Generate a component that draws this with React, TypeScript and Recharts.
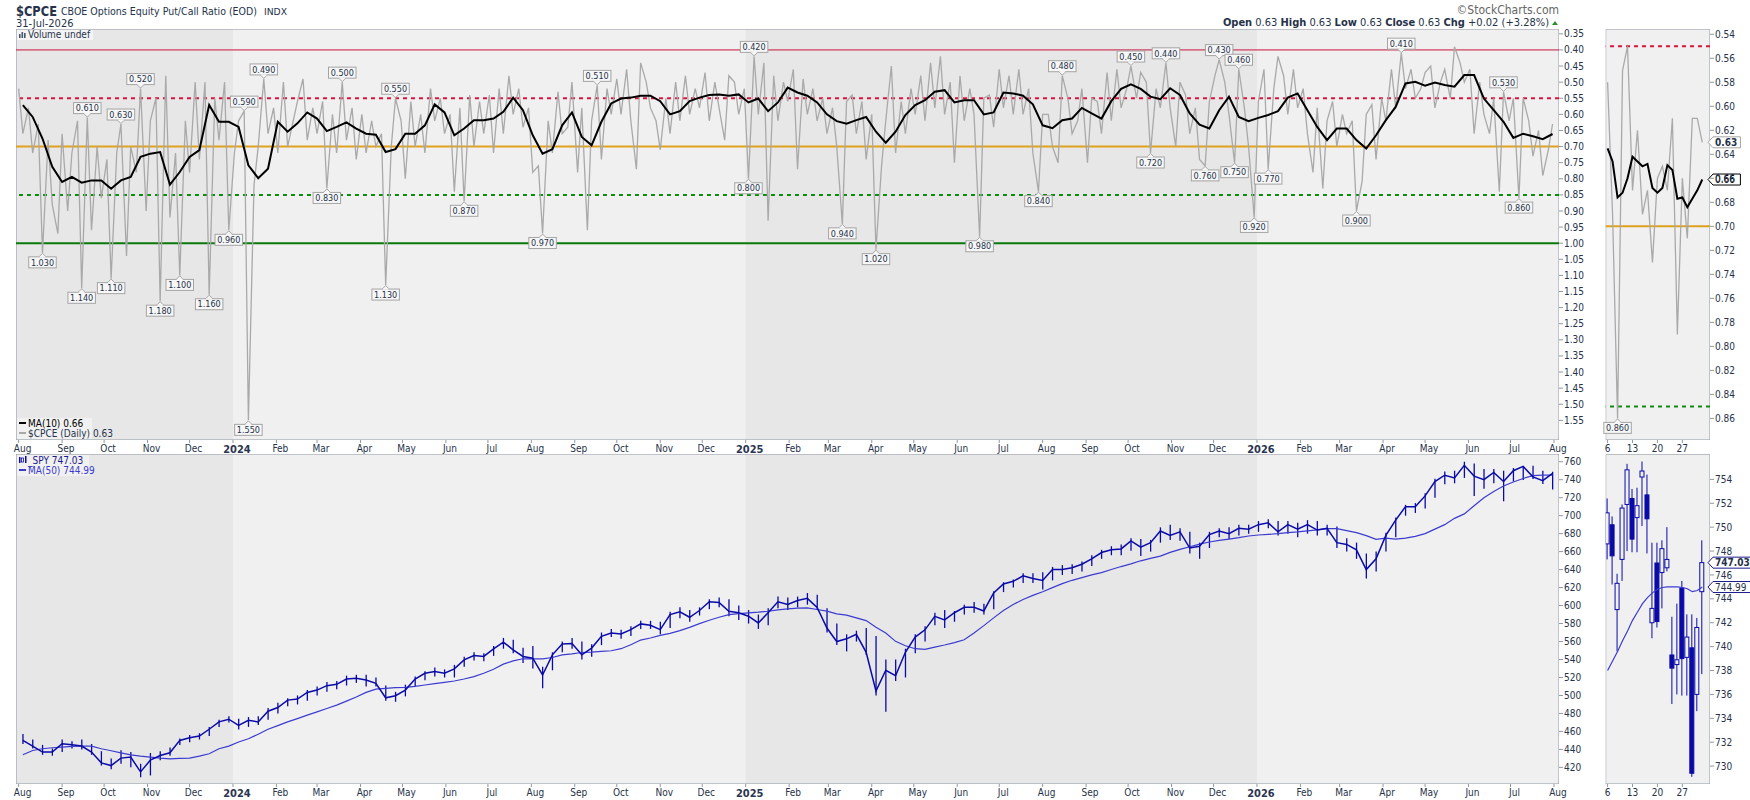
import React from 'react';
import {
  LineChart,
  Line,
  ComposedChart,
  Bar,
  XAxis,
  YAxis,
  ReferenceLine,
  ReferenceArea,
  ReferenceDot,
} from 'recharts';

const FONT = "'DejaVu Sans Condensed', 'Liberation Sans Narrow', 'DejaVu Sans', sans-serif";
const INK = '#26324a';
const FRAME = '#8f98a3';
const BG_LIGHT = '#f0f0f0';
const BG_DARK = '#e7e7e7';
const SPY_BLUE = '#0a0aa8';
const MA_BLUE = '#3b3bd0';

const DAY_MS = 86400000;
const EPOCH = Date.UTC(2024, 0, 1);
const dayOf = (y: number, m: number, d: number) => (Date.UTC(y, m, d) - EPOCH) / DAY_MS;
const FIRST_FRIDAY = dayOf(2023, 7, 4);
const X_DOMAIN: [number, number] = [-154.9, 946.6];
const MONTHS = ['Jan', 'Feb', 'Mar', 'Apr', 'May', 'Jun', 'Jul', 'Aug', 'Sep', 'Oct', 'Nov', 'Dec'];

// ── $CPCE, two readings per week (Tue, Fri), Aug 2023 – Jul 2026 ──
const CPCE_DAILY = [
  0.52, 0.66, 0.58, 0.72, 0.63, 1.03, 0.68, 0.88, 0.97, 0.66,
  0.90, 0.72, 0.62, 1.14, 0.61, 0.96, 0.70, 0.86, 0.74, 1.11,
  0.72, 0.63, 1.04, 0.70, 0.78, 0.52, 0.90, 0.62, 0.55, 1.18,
  0.48, 0.92, 0.72, 1.10, 0.62, 0.78, 0.50, 0.74, 0.50, 1.16,
  0.55, 0.68, 0.50, 0.96, 0.72, 0.62, 0.59, 1.55, 0.82, 0.70,
  0.49, 0.66, 0.58, 0.72, 0.50, 0.70, 0.62, 0.56, 0.49, 0.68,
  0.58, 0.66, 0.56, 0.83, 0.60, 0.72, 0.50, 0.68, 0.58, 0.74,
  0.60, 0.72, 0.62, 0.70, 0.66, 1.13, 0.70, 0.55, 0.62, 0.80,
  0.56, 0.70, 0.60, 0.72, 0.52, 0.62, 0.55, 0.66, 0.60, 0.84,
  0.58, 0.87, 0.54, 0.70, 0.56, 0.66, 0.54, 0.72, 0.52, 0.66,
  0.48, 0.60, 0.52, 0.64, 0.58, 0.78, 0.76, 0.97, 0.62, 0.72,
  0.53, 0.66, 0.64, 0.50, 0.78, 0.58, 0.96, 0.62, 0.51, 0.74,
  0.52, 0.60, 0.49, 0.60, 0.46, 0.62, 0.77, 0.44, 0.50, 0.58,
  0.62, 0.71, 0.55, 0.66, 0.50, 0.62, 0.48, 0.60, 0.52, 0.58,
  0.47, 0.62, 0.50, 0.58, 0.68, 0.48, 0.50, 0.60, 0.52, 0.80,
  0.42, 0.60, 0.44, 0.93, 0.48, 0.62, 0.50, 0.56, 0.46, 0.77,
  0.49, 0.60, 0.52, 0.62, 0.55, 0.66, 0.58, 0.70, 0.94, 0.56,
  0.54, 0.66, 0.56, 0.74, 0.60, 1.02, 0.76, 0.62, 0.45, 0.72,
  0.56, 0.66, 0.52, 0.60, 0.48, 0.62, 0.44, 0.58, 0.42, 0.60,
  0.50, 0.75, 0.48, 0.62, 0.52, 0.60, 0.98, 0.55, 0.54, 0.64,
  0.46, 0.58, 0.48, 0.60, 0.46, 0.60, 0.52, 0.72, 0.84, 0.60,
  0.60, 0.70, 0.75, 0.48, 0.55, 0.66, 0.62, 0.52, 0.75, 0.55,
  0.56, 0.66, 0.47, 0.62, 0.46, 0.58, 0.52, 0.45, 0.55, 0.47,
  0.50, 0.72, 0.52, 0.58, 0.44, 0.58, 0.70, 0.50, 0.54, 0.66,
  0.58, 0.74, 0.76, 0.56, 0.48, 0.43, 0.50, 0.60, 0.75, 0.46,
  0.58, 0.70, 0.92, 0.56, 0.46, 0.77, 0.52, 0.42, 0.48, 0.60,
  0.46, 0.58, 0.52, 0.66, 0.78, 0.58, 0.83, 0.62, 0.56, 0.70,
  0.60, 0.66, 0.62, 0.90, 0.81, 0.60, 0.57, 0.74, 0.55, 0.62,
  0.46, 0.58, 0.41, 0.52, 0.46, 0.55, 0.52, 0.47, 0.45, 0.58,
  0.50, 0.46, 0.55, 0.39, 0.44, 0.50, 0.46, 0.66, 0.50, 0.60,
  0.66, 0.55, 0.84, 0.53, 0.62, 0.55, 0.86, 0.55, 0.62, 0.73,
  0.65, 0.79, 0.71, 0.63,
];

// MA(10) of $CPCE, weekly (Fridays)
const CPCE_MA10 = [
  0.571, 0.608, 0.675, 0.763, 0.810, 0.794, 0.812, 0.805, 0.805, 0.831,
  0.805, 0.794, 0.732, 0.722, 0.717, 0.818, 0.779, 0.732, 0.711, 0.571,
  0.623, 0.623, 0.639, 0.758, 0.798, 0.769, 0.623, 0.654, 0.628, 0.594,
  0.613, 0.652, 0.639, 0.625, 0.644, 0.660, 0.663, 0.717, 0.708, 0.660,
  0.660, 0.634, 0.569, 0.594, 0.665, 0.644, 0.618, 0.618, 0.613, 0.592,
  0.548, 0.587, 0.665, 0.722, 0.708, 0.634, 0.594, 0.670, 0.696, 0.623,
  0.566, 0.551, 0.548, 0.542, 0.542, 0.559, 0.600, 0.590, 0.559, 0.548,
  0.540, 0.538, 0.542, 0.538, 0.563, 0.551, 0.590, 0.563, 0.517, 0.532,
  0.542, 0.563, 0.600, 0.621, 0.629, 0.618, 0.608, 0.654, 0.688, 0.654,
  0.602, 0.571, 0.556, 0.530, 0.525, 0.563, 0.556, 0.556, 0.600, 0.594,
  0.532, 0.535, 0.542, 0.569, 0.634, 0.643, 0.618, 0.613, 0.580, 0.597,
  0.613, 0.559, 0.521, 0.507, 0.521, 0.545, 0.553, 0.519, 0.540, 0.597,
  0.632, 0.644, 0.587, 0.545, 0.608, 0.621, 0.611, 0.602, 0.590, 0.548,
  0.535, 0.587, 0.639, 0.680, 0.644, 0.644, 0.680, 0.706, 0.665, 0.618,
  0.577, 0.504, 0.499, 0.511, 0.501, 0.509, 0.514, 0.478, 0.478, 0.551,
  0.587, 0.623, 0.673, 0.660, 0.668, 0.677, 0.661,
];

// labelled swing points: [index into CPCE_DAILY, box above the point?]
const CPCE_MARKS: [number, boolean][] = [
  [5, false], [14, true], [13, false], [21, true], [19, false], [25, true],
  [29, false], [33, false], [39, false], [43, false], [46, true], [47, false],
  [50, true], [63, false], [66, true], [75, false], [77, true], [91, false],
  [107, false], [118, true], [149, false], [150, true], [168, false], [175, false],
  [196, false], [208, false], [213, true], [227, true], [231, false], [234, true],
  [242, false], [245, true], [248, false], [249, true], [252, false], [255, false],
  [273, false], [282, true], [303, true], [306, false],
];

const CPCE_TICKS = [
  0.35, 0.4, 0.45, 0.5, 0.55, 0.6, 0.65, 0.7, 0.75, 0.8, 0.85, 0.9, 0.95,
  1.0, 1.05, 1.1, 1.15, 1.2, 1.25, 1.3, 1.35, 1.4, 1.45, 1.5, 1.55,
];

// ── SPY weekly close, weekly low / high and MA(50) ──
const SPY_CLOSE = [
  450.1, 443.7, 437.0, 437.0, 446.3, 445.2, 443.7, 437.0, 425.0, 422.0,
  430.3, 431.4, 415.0, 428.0, 433.2, 436.2, 450.0, 453.0, 454.9, 462.4,
  470.6, 473.6, 466.8, 472.4, 470.6, 482.5, 486.6, 494.8, 496.0, 503.4,
  506.0, 510.9, 512.4, 518.3, 519.1, 517.2, 513.5, 497.4, 499.7, 506.0,
  518.3, 524.7, 526.6, 524.7, 529.6, 539.6, 544.5, 543.4, 551.9, 559.4,
  550.8, 543.4, 541.5, 522.8, 545.2, 557.2, 557.9, 545.2, 552.7, 565.8,
  569.5, 568.4, 573.2, 579.6, 578.1, 573.2, 590.0, 593.0, 587.0, 594.5,
  604.2, 603.5, 593.7, 591.9, 588.2, 580.7, 591.9, 604.2, 601.2, 605.7,
  608.0, 598.0, 575.0, 560.0, 563.0, 568.0, 548.0, 505.0, 528.0, 522.0,
  548.0, 565.0, 573.0, 588.0, 584.0, 592.0, 598.0, 598.0, 594.0, 614.0,
  624.0, 627.0, 633.0, 630.0, 628.0, 640.0, 640.0, 642.0, 646.0, 652.0,
  659.0, 662.0, 663.0, 672.0, 665.0, 670.0, 683.0, 678.0, 682.0, 664.0,
  666.0, 679.0, 683.0, 680.0, 686.0, 685.0, 690.0, 692.0, 682.0, 690.0,
  685.0, 690.0, 684.0, 686.0, 670.0, 668.0, 662.0, 640.0, 652.0, 678.0,
  695.0, 710.0, 710.0, 722.0, 738.0, 745.0, 742.0, 756.0, 744.0, 740.0,
  748.0, 738.0, 750.0, 754.8, 743.2, 738.9, 747.03,
];

const SPY_LOW = [
  446, 441, 434, 433, 437, 441, 440, 434, 422, 418,
  424, 420, 409, 411, 428, 433, 445, 448, 451, 455,
  465, 470, 462, 465, 467, 473, 480, 488, 490, 494,
  500, 504, 507, 511, 514, 510, 510, 494, 493, 499,
  510, 517, 521, 520, 520, 532, 539, 538, 544, 552,
  547, 536, 530, 508, 528, 548, 552, 540, 543, 556,
  565, 563, 566, 574, 574, 568, 575, 586, 582, 589,
  596, 598, 588, 584, 580, 574, 578, 597, 595, 598,
  601, 595, 570, 556, 549, 560, 545, 500, 482, 516,
  520, 547, 560, 578, 575, 582, 590, 592, 590, 596,
  615, 620, 625, 625, 618, 628, 634, 635, 638, 644,
  652, 656, 656, 661, 655, 660, 670, 673, 672, 658,
  652, 664, 676, 674, 678, 680, 682, 686, 678, 680,
  676, 680, 678, 678, 664, 660, 652, 630, 638, 660,
  676, 700, 703, 708, 720, 735, 736, 742, 722, 730,
  736, 716, 738, 739.6, 740.7, 735.2, 729.1,
];

const SPY_HIGH = [
  457, 451, 445, 441, 451, 449, 451, 446, 438, 430,
  439, 437, 424, 436, 438, 442, 452, 456, 458, 465,
  473, 477, 474, 476, 477, 486, 492, 497, 500, 506,
  510, 515, 516, 522, 523, 523, 520, 511, 504, 512,
  521, 527, 531, 529, 534, 543, 548, 547, 555, 564,
  562, 553, 555, 532, 548, 560, 564, 560, 557, 570,
  574, 573, 577, 583, 583, 582, 593, 598, 595, 598,
  607, 609, 607, 600, 595, 590, 597, 610, 609, 610,
  614, 612, 597, 580, 568, 572, 575, 566, 540, 540,
  552, 568, 577, 592, 595, 594, 601, 604, 602, 616,
  626, 629, 636, 636, 637, 643, 645, 646, 649, 656,
  662, 666, 668, 675, 674, 673, 687, 690, 686, 682,
  670, 682, 686, 687, 690, 690, 694, 696, 694, 694,
  692, 695, 694, 690, 688, 675, 670, 658, 660, 681,
  698, 712, 714, 725, 741, 749, 750, 760, 758, 752,
  752, 750, 753, 755.3, 755.5, 750.0, 748.9,
];

const SPY_MA50 = [
  434.0, 438.8, 440.7, 441.8, 442.6, 443.3, 443.7, 443.7, 440.7, 438.5,
  436.2, 434.0, 432.5, 431.4, 430.3, 429.5, 429.9, 430.3, 432.5, 435.1,
  440.7, 443.7, 448.2, 451.9, 456.8, 462.4, 466.5, 470.6, 474.3, 478.1,
  481.8, 485.5, 489.2, 493.7, 498.2, 503.4, 507.1, 507.9, 508.6, 509.0,
  510.1, 511.6, 513.1, 514.6, 516.1, 518.3, 521.0, 524.7, 529.2, 534.8,
  538.5, 540.8, 540.8, 540.8, 542.2, 545.2, 546.3, 547.8, 548.2, 549.0,
  549.7, 552.0, 556.4, 561.6, 563.9, 566.9, 569.1, 572.1, 575.8, 579.9,
  583.7, 587.0, 590.0, 591.1, 591.9, 592.6, 593.7, 595.2, 596.4, 597.1,
  597.5, 595.6, 593.8, 590.8, 589.3, 586.3, 583.3, 575.8, 569.5, 560.2,
  555.3, 552.0, 551.2, 553.8, 556.1, 558.7, 562.0, 569.5, 577.7, 586.3,
  594.5, 601.2, 606.8, 611.3, 615.4, 619.9, 624.4, 628.1, 631.1, 634.1,
  636.7, 640.1, 643.4, 646.4, 649.8, 652.4, 655.0, 659.1, 662.5, 665.4,
  668.4, 670.7, 672.5, 674.0, 675.5, 677.4, 678.5, 679.2, 680.0, 681.1,
  681.9, 683.0, 684.1, 685.6, 685.6, 683.4, 681.1, 677.8, 673.6, 675.0,
  674.0, 675.0, 677.0, 680.0, 685.0, 690.0, 697.0, 702.0, 711.0, 720.0,
  727.0, 733.0, 737.5, 741.4, 744.5, 745.0, 744.99,
];

const SPY_TICKS = [420, 440, 460, 480, 500, 520, 540, 560, 580, 600, 620, 640, 660, 680, 700, 720, 740, 760];

// ── July 2026 close-up ──
const MINI_DAYS = ['6', '7', '8', '9', '10', '13', '14', '15', '16', '17', '20', '21', '22', '23', '24', '27', '28', '29', '30', '31'];
const MINI_TICK_DAYS = ['6', '13', '20', '27'];
const MINI_CPCE = [0.58, 0.69, 0.86, 0.57, 0.55, 0.67, 0.62, 0.69, 0.67, 0.73, 0.66, 0.65, 0.67, 0.61, 0.79, 0.66, 0.71, 0.61, 0.61, 0.63];
const MINI_MA10 = [0.635, 0.646, 0.676, 0.672, 0.66, 0.642, 0.646, 0.65, 0.648, 0.668, 0.672, 0.668, 0.649, 0.653, 0.677, 0.676, 0.684, 0.677, 0.67, 0.661];
const MINI_CPCE_TICKS = [0.54, 0.56, 0.58, 0.6, 0.62, 0.64, 0.66, 0.68, 0.7, 0.72, 0.74, 0.76, 0.78, 0.8, 0.82, 0.84, 0.86];
const MINI_OPEN = [748.6, 750.2, 743.1, 747.3, 751.9, 752.4, 750.8, 754.2, 752.7, 742.0, 747.0, 746.2, 746.6, 739.3, 738.5, 744.9, 739.1, 739.9, 736.0, 744.6];
const MINI_HIGH = [752.4, 750.9, 746.1, 751.9, 755.3, 753.2, 753.3, 755.5, 754.4, 748.7, 748.7, 748.9, 750.0, 742.5, 743.6, 745.5, 742.7, 742.7, 742.4, 748.9];
const MINI_LOW = [747.3, 745.2, 739.6, 745.5, 748.0, 747.9, 747.9, 750.1, 747.8, 740.7, 741.6, 743.2, 746.3, 735.2, 736.0, 735.9, 735.9, 729.1, 734.6, 737.7];
const MINI_CLOSE = [751.2, 747.6, 745.3, 751.6, 754.8, 749.0, 751.8, 754.7, 750.7, 743.2, 742.1, 748.2, 747.3, 738.2, 738.9, 739.0, 740.8, 729.4, 741.6, 747.03];
const MINI_MA50 = [738.0, 738.8, 739.6, 740.5, 741.3, 742.2, 742.9, 743.6, 744.1, 744.5, 744.8, 744.95, 745.0, 745.0, 745.0, 744.95, 744.85, 744.6, 744.7, 744.99];
const MINI_SPY_TICKS = [730, 732, 734, 736, 738, 740, 742, 744, 746, 748, 750, 752, 754];

// ── derived tables ────────────────────────────────────────────

const weekDay = (w: number, slot: number) => FIRST_FRIDAY + 7 * w - (slot === 0 ? 3 : 0);
const cpceDaily = CPCE_DAILY.map((v, i) => ({ d: weekDay(Math.floor(i / 2), i % 2), v }));
const cpceMa = CPCE_MA10.map((v, w) => ({ d: weekDay(w, 1), v }));
const spyWeekly = SPY_CLOSE.map((c, w) => ({
  d: weekDay(w, 1),
  c,
  lo: SPY_LOW[w],
  hi: SPY_HIGH[w],
  ma: SPY_MA50[w],
}));

const MONTH_TICKS: number[] = [];
for (let k = 0; k <= 36; k++) {
  MONTH_TICKS.push(dayOf(2023 + Math.floor((7 + k) / 12), (7 + k) % 12, 1));
}
const DARK_YEARS: [number, number][] = [
  [X_DOMAIN[0], dayOf(2024, 0, 1)],
  [dayOf(2025, 0, 1), dayOf(2026, 0, 1)],
];

const miniCpce = MINI_DAYS.map((_, i) => ({ i, v: MINI_CPCE[i], ma: MINI_MA10[i] }));
const miniSpy = MINI_DAYS.map((_, i) => ({
  i,
  o: MINI_OPEN[i],
  h: MINI_HIGH[i],
  l: MINI_LOW[i],
  c: MINI_CLOSE[i],
  ma: MINI_MA50[i],
}));
const MINI_TICKS = MINI_TICK_DAYS.map((d) => MINI_DAYS.indexOf(d));
const MINI_DOMAIN: [number, number] = [-0.38, 20.55];

const tickStyle = { fill: INK, fontSize: 10, fontFamily: FONT };

// ── small drawing helpers ─────────────────────────────────────

function MonthTick(props: any) {
  const { x, y, payload } = props;
  const dt = new Date(EPOCH + payload.value * DAY_MS);
  const m = dt.getUTCMonth();
  const isYear = m === 0;
  return (
    <text
      x={x + 4}
      y={y}
      dy="0.71em"
      textAnchor="middle"
      fontFamily={FONT}
      fontSize={isYear ? 11 : 10}
      fontWeight={isYear ? 700 : 400}
      fill={isYear ? '#2a3550' : INK}
    >
      {isYear ? dt.getUTCFullYear() : MONTHS[m]}
    </text>
  );
}

function PeakTag({ cx, cy, text, up }: any) {
  if (cx == null || cy == null) return null;
  const w = text.length * 4.7 + 4;
  const h = 11;
  const edge = up ? cy - 4 : cy + 4;
  const top = up ? edge - h : edge;
  return (
    <g>
      <rect x={cx - w / 2} y={top} width={w} height={h} fill="#f7f7f7" stroke="#a4a4a4" strokeWidth={1} />
      <path
        d={`M${cx - 3.5},${edge} L${cx},${up ? cy - 0.5 : cy + 0.5} L${cx + 3.5},${edge}`}
        fill="#f7f7f7"
        stroke="#a4a4a4"
        strokeWidth={1}
      />
      <line x1={cx - 2.8} x2={cx + 2.8} y1={edge} y2={edge} stroke="#f7f7f7" strokeWidth={1.2} />
      <text x={cx} y={top + h - 2.3} textAnchor="middle" fontFamily={FONT} fontSize={9} fill={INK}>
        {text}
      </text>
    </g>
  );
}

function AxisTag({ viewBox, text, border, bold, color }: any) {
  if (!viewBox) return null;
  const x = viewBox.x + viewBox.width - 2;
  const y = viewBox.y;
  const w = text.length * 5.6 + 5;
  const h = 11;
  return (
    <g>
      <path
        d={`M${x},${y} L${x + 5},${y - h / 2} L${x + 5 + w},${y - h / 2} L${x + 5 + w},${y + h / 2} L${x + 5},${y + h / 2} Z`}
        fill="#ffffff"
        stroke={border}
        strokeWidth={1}
      />
      <text x={x + 7} y={y + 3.8} fontFamily={FONT} fontSize={10} fontWeight={bold ? 700 : 400} fill={color}>
        {text}
      </text>
    </g>
  );
}

function Candle(props: any) {
  const { x, y, width, height, payload } = props;
  if (x == null || y == null || !payload) return null;
  const top = Math.min(y, y + height);
  const span = Math.abs(height);
  const py = (v: number) => top + ((payload.h - v) / (payload.h - payload.l)) * span;
  const cx = x + width / 2;
  const bodyTop = py(Math.max(payload.o, payload.c));
  const bodyBot = py(Math.min(payload.o, payload.c));
  const hollow = payload.c >= payload.o;
  return (
    <g>
      <line x1={cx} x2={cx} y1={top} y2={top + span} stroke={SPY_BLUE} strokeWidth={1} />
      <rect
        x={x}
        y={bodyTop}
        width={width}
        height={Math.max(1, bodyBot - bodyTop)}
        fill={hollow ? BG_LIGHT : SPY_BLUE}
        stroke={SPY_BLUE}
        strokeWidth={1}
      />
    </g>
  );
}

function RangeTick(props: any) {
  const { x, y, width, height } = props;
  if (x == null || y == null) return null;
  const top = Math.min(y, y + height);
  const cx = x + width / 2;
  return <line x1={cx} x2={cx} y1={top} y2={top + Math.abs(height)} stroke={SPY_BLUE} strokeWidth={1.3} />;
}

// ── panels ────────────────────────────────────────────────────

function CpceMain() {
  return (
    <LineChart width={1600} height={460} margin={{ top: 29, right: 0, bottom: 0, left: 16 }}>
      <XAxis
        type="number"
        dataKey="d"
        domain={X_DOMAIN}
        allowDataOverflow
        ticks={MONTH_TICKS}
        interval={0}
        tick={<MonthTick />}
        tickSize={3}
        tickLine={{ stroke: FRAME }}
        axisLine={false}
        height={20}
      />
      <YAxis
        orientation="right"
        reversed
        domain={[0.335, 1.611]}
        allowDataOverflow
        ticks={CPCE_TICKS}
        interval={0}
        tickFormatter={(v: number) => v.toFixed(2)}
        tick={tickStyle}
        tickSize={4}
        tickMargin={1}
        tickLine={{ stroke: FRAME }}
        axisLine={false}
        width={41}
      />
      <ReferenceArea x1={X_DOMAIN[0]} x2={X_DOMAIN[1]} fill={BG_LIGHT} fillOpacity={1} ifOverflow="hidden" />
      {DARK_YEARS.map(([a, b]) => (
        <ReferenceArea key={a} x1={a} x2={b} fill={BG_DARK} fillOpacity={1} ifOverflow="hidden" />
      ))}
      <ReferenceLine y={0.4} stroke="#c8143c" strokeWidth={1} />
      <ReferenceLine y={0.55} stroke="#dc143c" strokeWidth={2} strokeDasharray="4 4" />
      <ReferenceLine y={0.7} stroke="#dfa21e" strokeWidth={2} />
      <ReferenceLine y={0.85} stroke="#118a11" strokeWidth={2} strokeDasharray="4 4" />
      <ReferenceLine y={1.0} stroke="#0a780a" strokeWidth={2} />
      <Line data={cpceDaily} dataKey="v" stroke="#a9a9a9" strokeWidth={1.3} dot={false} isAnimationActive={false} />
      <Line data={cpceMa} dataKey="v" stroke="#000000" strokeWidth={2} dot={false} isAnimationActive={false} />
      {CPCE_MARKS.map(([i, up]) => (
        <ReferenceDot
          key={i}
          x={cpceDaily[i].d}
          y={cpceDaily[i].v}
          shape={(p: any) => <PeakTag cx={p.cx} cy={p.cy} text={cpceDaily[i].v.toFixed(3)} up={up} />}
        />
      ))}
      <ReferenceArea x1={X_DOMAIN[0]} x2={X_DOMAIN[1]} fill="none" stroke={FRAME} ifOverflow="hidden" />
    </LineChart>
  );
}

function SpyMain() {
  return (
    <ComposedChart width={1600} height={346} data={spyWeekly} margin={{ top: 0, right: 0, bottom: 0, left: 16 }}>
      <XAxis
        type="number"
        dataKey="d"
        domain={X_DOMAIN}
        allowDataOverflow
        ticks={MONTH_TICKS}
        interval={0}
        tick={<MonthTick />}
        tickSize={3}
        tickLine={{ stroke: FRAME }}
        axisLine={false}
        height={16}
      />
      <YAxis
        orientation="right"
        domain={[401.5, 768.6]}
        allowDataOverflow
        ticks={SPY_TICKS}
        interval={0}
        tick={tickStyle}
        tickSize={4}
        tickMargin={1}
        tickLine={{ stroke: FRAME }}
        axisLine={false}
        width={41}
      />
      <ReferenceArea x1={X_DOMAIN[0]} x2={X_DOMAIN[1]} fill={BG_LIGHT} fillOpacity={1} ifOverflow="hidden" />
      {DARK_YEARS.map(([a, b]) => (
        <ReferenceArea key={a} x1={a} x2={b} fill={BG_DARK} fillOpacity={1} ifOverflow="hidden" />
      ))}
      <Line dataKey="ma" stroke={MA_BLUE} strokeWidth={1.2} dot={false} isAnimationActive={false} />
      <Bar
        dataKey={(p: any) => [p.lo, p.hi]}
        barSize={2}
        isAnimationActive={false}
        shape={(p: any) => <RangeTick {...p} />}
      />
      <Line dataKey="c" stroke={SPY_BLUE} strokeWidth={1.5} dot={false} isAnimationActive={false} />
      <ReferenceArea x1={X_DOMAIN[0]} x2={X_DOMAIN[1]} fill="none" stroke={FRAME} ifOverflow="hidden" />
    </ComposedChart>
  );
}

function CpceMini() {
  return (
    <LineChart width={160} height={460} data={miniCpce} margin={{ top: 29, right: 0, bottom: 0, left: 15.7 }}>
      <XAxis
        type="number"
        dataKey="i"
        domain={MINI_DOMAIN}
        allowDataOverflow
        ticks={MINI_TICKS}
        interval={0}
        tickFormatter={(i: number) => MINI_DAYS[i]}
        tick={tickStyle}
        tickSize={3}
        tickLine={{ stroke: FRAME }}
        axisLine={false}
        height={20}
      />
      <YAxis
        orientation="right"
        reversed
        domain={[0.5356, 0.878]}
        allowDataOverflow
        ticks={MINI_CPCE_TICKS}
        interval={0}
        tickFormatter={(v: number) => v.toFixed(2)}
        tick={tickStyle}
        tickSize={4}
        tickMargin={1}
        tickLine={{ stroke: FRAME }}
        axisLine={false}
        width={40}
      />
      <ReferenceArea x1={MINI_DOMAIN[0]} x2={MINI_DOMAIN[1]} fill={BG_LIGHT} fillOpacity={1} ifOverflow="hidden" />
      <ReferenceLine y={0.55} stroke="#dc143c" strokeWidth={2} strokeDasharray="4 4" />
      <ReferenceLine y={0.7} stroke="#dfa21e" strokeWidth={2} />
      <ReferenceLine y={0.85} stroke="#118a11" strokeWidth={2} strokeDasharray="4 4" />
      <Line dataKey="v" stroke="#a9a9a9" strokeWidth={1.3} dot={false} isAnimationActive={false} />
      <Line dataKey="ma" stroke="#000000" strokeWidth={2} dot={false} isAnimationActive={false} />
      <ReferenceDot
        x={2}
        y={MINI_CPCE[2]}
        shape={(p: any) => <PeakTag cx={p.cx} cy={p.cy} text={MINI_CPCE[2].toFixed(3)} up={false} />}
      />
      <ReferenceLine
        y={MINI_CPCE[MINI_CPCE.length - 1]}
        stroke="none"
        label={{
          content: (p: any) => (
            <AxisTag viewBox={p.viewBox} text={MINI_CPCE[MINI_CPCE.length - 1].toFixed(2)} border="#a4a4a4" bold color={INK} />
          ),
        }}
      />
      <ReferenceLine
        y={MINI_MA10[MINI_MA10.length - 1]}
        stroke="none"
        label={{
          content: (p: any) => (
            <AxisTag viewBox={p.viewBox} text={MINI_MA10[MINI_MA10.length - 1].toFixed(2)} border="#000000" color="#000000" />
          ),
        }}
      />
      <ReferenceArea x1={MINI_DOMAIN[0]} x2={MINI_DOMAIN[1]} fill="none" stroke={FRAME} ifOverflow="hidden" />
    </LineChart>
  );
}

function SpyMini() {
  const last = miniSpy[miniSpy.length - 1];
  return (
    <ComposedChart width={160} height={346} data={miniSpy} margin={{ top: 0.3, right: 0, bottom: 0, left: 15.7 }}>
      <XAxis
        type="number"
        dataKey="i"
        domain={MINI_DOMAIN}
        allowDataOverflow
        ticks={MINI_TICKS}
        interval={0}
        tickFormatter={(i: number) => MINI_DAYS[i]}
        tick={tickStyle}
        tickSize={3}
        tickLine={{ stroke: FRAME }}
        axisLine={false}
        height={16}
      />
      <YAxis
        orientation="right"
        domain={[728.5, 756.1]}
        allowDataOverflow
        ticks={MINI_SPY_TICKS}
        interval={0}
        tick={tickStyle}
        tickSize={4}
        tickMargin={1}
        tickLine={{ stroke: FRAME }}
        axisLine={false}
        width={40}
      />
      <ReferenceArea x1={MINI_DOMAIN[0]} x2={MINI_DOMAIN[1]} fill={BG_LIGHT} fillOpacity={1} ifOverflow="hidden" />
      <Bar
        dataKey={(p: any) => [p.l, p.h]}
        barSize={4}
        isAnimationActive={false}
        shape={(p: any) => <Candle {...p} />}
      />
      <Line dataKey="ma" stroke={MA_BLUE} strokeWidth={1.2} dot={false} isAnimationActive={false} />
      <ReferenceLine
        y={last.c}
        stroke="none"
        label={{
          content: (p: any) => <AxisTag viewBox={p.viewBox} text={last.c.toFixed(2)} border="#1a1a8c" bold color={INK} />,
        }}
      />
      <ReferenceLine
        y={last.ma}
        stroke="none"
        label={{
          content: (p: any) => <AxisTag viewBox={p.viewBox} text={last.ma.toFixed(2)} border="#1a1a8c" color={INK} />,
        }}
      />
      <ReferenceArea x1={MINI_DOMAIN[0]} x2={MINI_DOMAIN[1]} fill="none" stroke={FRAME} ifOverflow="hidden" />
    </ComposedChart>
  );
}

// ── page ──────────────────────────────────────────────────────

export default function App() {
  return (
    <div style={{ position: 'relative', width: 1750, height: 800, background: '#ffffff', overflow: 'hidden' }}>
      <style>{'body{margin:0}'}</style>
      <div style={{ position: 'absolute', left: 0, top: 0 }}>
        <CpceMain />
      </div>
      <div style={{ position: 'absolute', left: 0, top: 454 }}>
        <SpyMain />
      </div>
      <div style={{ position: 'absolute', left: 1590, top: 0 }}>
        <CpceMini />
      </div>
      <div style={{ position: 'absolute', left: 1590, top: 454 }}>
        <SpyMini />
      </div>
      <svg
        width={1750}
        height={800}
        style={{ position: 'absolute', left: 0, top: 0, pointerEvents: 'none' }}
        fontFamily={FONT}
      >
        <text x={16} y={16} fontSize={14} fontWeight={700} fill={INK} textLength={41} lengthAdjust="spacingAndGlyphs">
          $CPCE
        </text>
        <text x={61} y={15} fontSize={11} fill={INK} textLength={196} lengthAdjust="spacingAndGlyphs">
          CBOE Options Equity Put/Call Ratio (EOD)
        </text>
        <text x={264} y={15} fontSize={9.5} fill={INK} textLength={23} lengthAdjust="spacingAndGlyphs">
          INDX
        </text>
        <text x={16} y={27} fontSize={11} fill={INK}>31-Jul-2026</text>
        <text x={1559} y={14} fontSize={12} fill="#666666" textAnchor="end">©StockCharts.com</text>
        <text x={1549} y={26} fontSize={11} fill={INK} textAnchor="end">
          <tspan fontWeight={700}>Open</tspan> 0.63  <tspan fontWeight={700}>High</tspan> 0.63  <tspan fontWeight={700}>Low</tspan> 0.63  <tspan fontWeight={700}>Close</tspan> 0.63  <tspan fontWeight={700}>Chg</tspan> +0.02 (+3.28%)
        </text>
        <path d="M1552,25 L1555,21 L1558,25 Z" fill="#2e8b2e" />

        <rect x={17} y={30} width={76} height={10} fill="#f4f4f4" />
        <rect x={19} y={34} width={1.6} height={4} fill="#4a5670" />
        <rect x={21.5} y={32} width={1.6} height={6} fill="#4a5670" />
        <rect x={24} y={33} width={1.6} height={5} fill="#4a5670" />
        <text x={28} y={38} fontSize={10} fill={INK}>Volume undef</text>

        <rect x={17} y={418} width={75} height={21} fill="#f4f4f4" fillOpacity={0.8} />
        <line x1={19} x2={26} y1={423} y2={423} stroke="#000000" strokeWidth={2} />
        <text x={28} y={427} fontSize={10} fill="#000000">MA(10) 0.66</text>
        <line x1={19} x2={26} y1={433} y2={433} stroke="#a9a9a9" strokeWidth={2} />
        <text x={28} y={437} fontSize={10} fill={INK}>$CPCE (Daily) 0.63</text>

        <rect x={17} y={455} width={72} height={21} fill="#f4f4f4" fillOpacity={0.8} />
        <rect x={19} y={457} width={1.5} height={6} fill={SPY_BLUE} />
        <rect x={21.5} y={458} width={2} height={4} fill="none" stroke={SPY_BLUE} strokeWidth={0.8} />
        <rect x={25} y={456} width={1.5} height={7} fill={SPY_BLUE} />
        <text x={28} y={464} fontSize={10} fill="#1a1a8c">_SPY 747.03</text>
        <line x1={19} x2={26} y1={470} y2={470} stroke={MA_BLUE} strokeWidth={2} />
        <text x={28} y={474} fontSize={10} fill={MA_BLUE}>MA(50) 744.99</text>
      </svg>
    </div>
  );
}
